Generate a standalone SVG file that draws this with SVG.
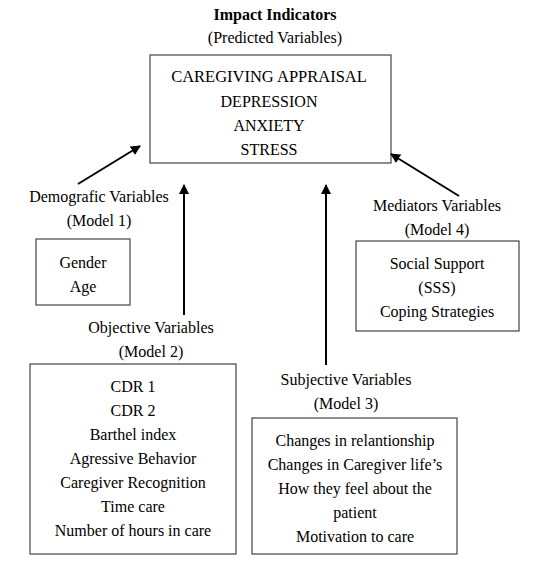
<svg xmlns="http://www.w3.org/2000/svg" width="540" height="565" viewBox="0 0 540 565">
<defs>
<marker id="ah" markerWidth="10" markerHeight="10" refX="9" refY="5" orient="auto" markerUnits="userSpaceOnUse">
<path d="M0,0 L10,5 L0,10 z" fill="#000"/>
</marker>
<style>
text{font-family:"Liberation Serif","Times New Roman",serif;font-size:16px;fill:#000;text-anchor:middle}
.b{font-weight:bold}
rect{fill:#fff;stroke:#444;stroke-width:1.2}
.c line{stroke:#000;stroke-width:2;marker-end:url(#ah)}
</style>
</defs>
<rect x="0" y="0" width="540" height="565" style="stroke:none"/>
<g id="title">
<text x="275" y="20" class="b">Impact Indicators</text>
<text x="275" y="43">(Predicted Variables)</text>
</g>
<g id="impact">
<rect x="150" y="55" width="241" height="108"/>
<text x="269" y="82" style="font-size:16.5px">CAREGIVING APPRAISAL</text>
<text x="269" y="107">DEPRESSION</text>
<text x="269" y="131">ANXIETY</text>
<text x="269" y="155">STRESS</text>
</g>
<g id="demographic">
<text x="99" y="202">Demografic Variables</text>
<text x="99" y="226">(Model 1)</text>
<rect x="36" y="239" width="94" height="66"/>
<text x="83" y="268">Gender</text>
<text x="83" y="292">Age</text>
</g>
<g id="objective">
<text x="151" y="333">Objective Variables</text>
<text x="151" y="357">(Model 2)</text>
<rect x="30" y="364" width="206" height="190"/>
<text x="133" y="392">CDR 1</text>
<text x="133" y="416">CDR 2</text>
<text x="133" y="440">Barthel index</text>
<text x="133" y="464">Agressive Behavior</text>
<text x="133" y="488">Caregiver Recognition</text>
<text x="133" y="512">Time care</text>
<text x="133" y="536">Number of hours in care</text>
</g>
<g id="subjective">
<text x="346" y="385">Subjective Variables</text>
<text x="346" y="409">(Model 3)</text>
<rect x="252" y="418" width="205" height="136"/>
<text x="355" y="446">Changes in relantionship</text>
<text x="355" y="470">Changes in Caregiver life’s</text>
<text x="355" y="494">How they feel about the</text>
<text x="355" y="518">patient</text>
<text x="355" y="542">Motivation to care</text>
</g>
<g id="mediators">
<text x="437" y="211">Mediators Variables</text>
<text x="437" y="235">(Model 4)</text>
<rect x="356" y="241" width="163" height="90"/>
<text x="437" y="269">Social Support</text>
<text x="437" y="293">(SSS)</text>
<text x="437" y="317">Coping Strategies</text>
</g>
<g id="connectors" class="c">
<line x1="78" y1="184" x2="140" y2="146"/>
<line x1="184" y1="315" x2="184" y2="185"/>
<line x1="326" y1="365" x2="326" y2="185"/>
<line x1="459" y1="196" x2="391" y2="154"/>
</g>
</svg>
